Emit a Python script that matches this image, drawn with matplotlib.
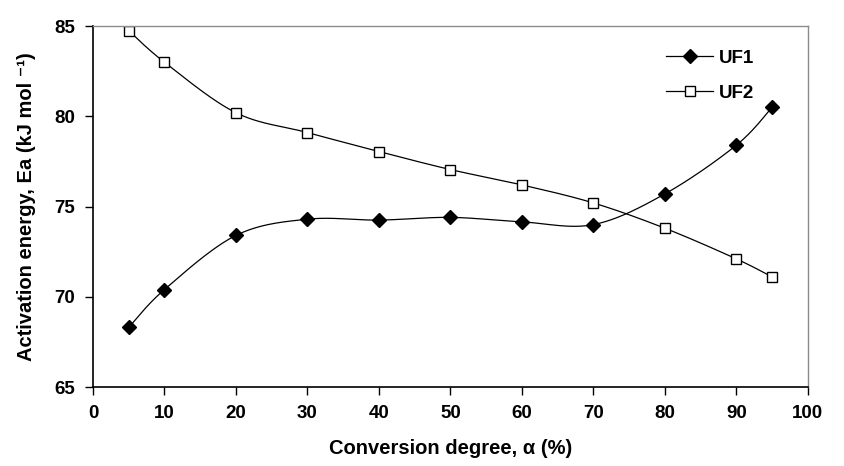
import numpy as np
import matplotlib
matplotlib.use("Agg")
import matplotlib.pyplot as plt

plt.rcParams["font.family"] = ["Liberation Sans", "DejaVu Sans"]
plt.rcParams["font.weight"] = "bold"
plt.rcParams["axes.labelweight"] = "bold"

conversion = [5, 10, 20, 30, 40, 50, 60, 70, 80, 90, 95]
ea_uf1 = [68.3, 70.4, 73.4, 74.3, 74.25, 74.4, 74.15, 74.0, 75.7, 78.4, 80.5]
ea_uf2 = [84.75, 83.0, 80.2, 79.1, 78.05, 77.05, 76.2, 75.2, 73.8, 72.1, 71.1]


def smooth(x, y, n=30):
    # Excel-style smoothed line: Catmull-Rom style Bezier through the points
    x = np.asarray(x, float)
    y = np.asarray(y, float)
    px = np.concatenate([[x[0]], x, [x[-1]]])
    py = np.concatenate([[y[0]], y, [y[-1]]])
    xs, ys = [x[0]], [y[0]]
    t = np.linspace(0, 1, n)[1:]
    for i in range(1, len(px) - 2):
        p0 = np.array([px[i], py[i]])
        p3 = np.array([px[i + 1], py[i + 1]])
        c1 = p0 + (np.array([px[i + 1], py[i + 1]]) - np.array([px[i - 1], py[i - 1]])) / 6
        c2 = p3 - (np.array([px[i + 2], py[i + 2]]) - np.array([px[i], py[i]])) / 6
        pts = ((1 - t) ** 3)[:, None] * p0 + (3 * (1 - t) ** 2 * t)[:, None] * c1 \
            + (3 * (1 - t) * t ** 2)[:, None] * c2 + (t ** 3)[:, None] * p3
        xs.extend(pts[:, 0])
        ys.extend(pts[:, 1])
    return xs, ys


fig = plt.figure(figsize=(8.45, 4.66), dpi=100)
ax = fig.add_axes([0.110, 0.1695, 0.846, 0.7745])

sx, sy = smooth(conversion, ea_uf1)
ax.plot(sx, sy, color="black", lw=0.9)
ax.plot(conversion, ea_uf1, "D", color="black", markersize=7, ls="none")
sx, sy = smooth(conversion, ea_uf2)
ax.plot(sx, sy, color="black", lw=0.9)
ax.plot(conversion, ea_uf2, "s", markerfacecolor="white", markeredgecolor="black",
        markeredgewidth=1.0, markersize=6.5, ls="none")

# legend proxies
ax.plot([], [], "D-", color="black", lw=0.9, markersize=7, label="UF1")
ax.plot([], [], "s-", color="black", lw=0.9, markersize=6.5, markerfacecolor="white",
        markeredgewidth=1.0, label="UF2")
ax.legend(loc="upper right", bbox_to_anchor=(0.935, 0.955), frameon=False,
          fontsize=13.5, handlelength=2.5, handletextpad=0.3, labelspacing=0.95,
          borderaxespad=0)

ax.set_xlim(0, 100)
ax.set_ylim(65, 85)
ax.set_xticks(range(0, 101, 10))
ax.set_yticks(range(65, 86, 5))
ax.tick_params(direction="out", length=6, width=1, labelsize=13.5, pad=7)
for s in ["top", "right"]:
    ax.spines[s].set_color("#8c8c8c")
    ax.spines[s].set_linewidth(1.0)
for s in ["left", "bottom"]:
    ax.spines[s].set_linewidth(1.2)

ax.set_xlabel("Conversion degree, α (%)", fontsize=14.5, labelpad=12)
ax.set_ylabel("Activation energy, Ea (kJ mol ⁻¹)", fontsize=14.5, labelpad=13)

fig.savefig("out.png", dpi=100)
